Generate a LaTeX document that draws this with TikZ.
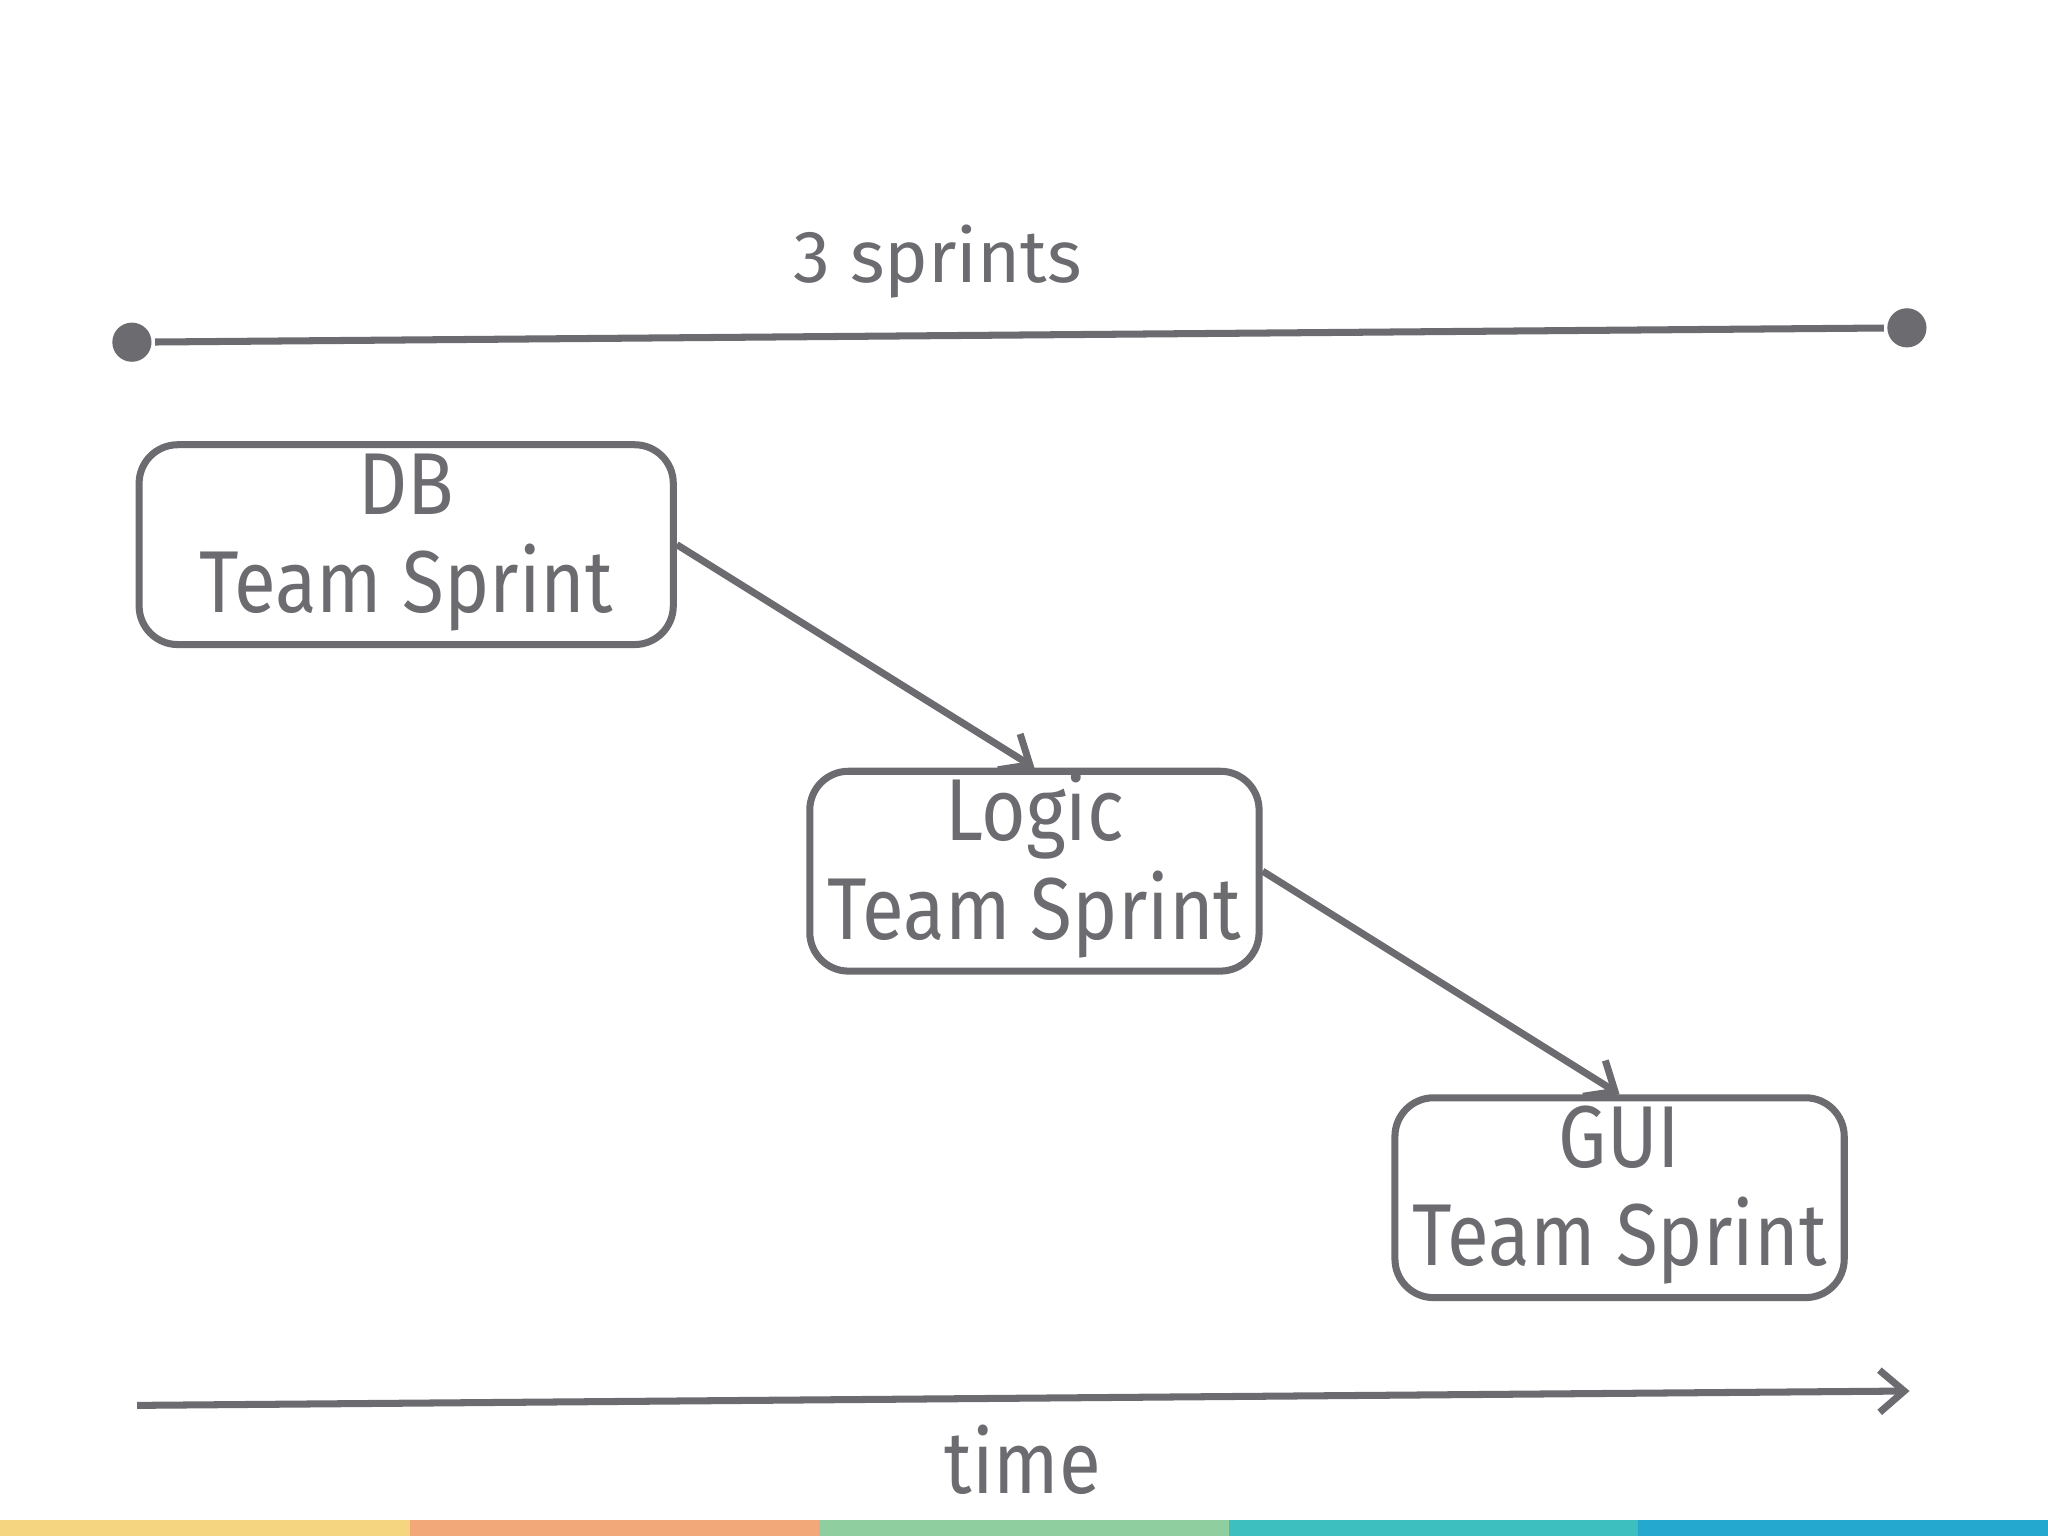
\documentclass[tikz,border=0pt]{standalone}
\usepackage{fontspec}
\setmainfont{Fira Sans}
\newfontfamily\narrowfont{Fira Sans}[FakeStretch=0.87]
\usetikzlibrary{positioning,arrows.meta}
\definecolor{ink}{HTML}{6B6B70}
\definecolor{bandA}{HTML}{F6D580}
\definecolor{bandB}{HTML}{F2A878}
\definecolor{bandC}{HTML}{8FCF9F}
\definecolor{bandD}{HTML}{3DBFBF}
\definecolor{bandE}{HTML}{25A8D0}
\newcommand{\sprinttext}[1]{\raisebox{-6pt}[0pt][0pt]{\begin{tabular}{@{}c@{}}#1\\Team Sprint\end{tabular}}}

\begin{document}
\begin{tikzpicture}[x=0.013061cm, y=-0.013061cm, line width=2pt, draw=ink,
    sprint/.style={draw=ink, rounded corners=11pt, inner sep=0pt,
      minimum height=153*0.013061cm, font=\narrowfont\fontsize{25}{28}\selectfont, text=ink},
    dot/.style={circle, fill=ink, minimum size=30*0.013061cm, inner sep=0pt},
    link/.style={draw=ink, -{Straight Barb[length=7pt, width=12pt]}}]

    \useasboundingbox (0,0) rectangle (1568,1176);

    % Colour band
    \foreach \c [count=\i from 0] in {bandA,bandB,bandC,bandD,bandE}
      \fill[\c] (\i*313.6,1164) rectangle ({(\i+1)*313.6},1176);

    % Span of the sprints
    \node[dot] (s) at (101,262) {};
    \node[dot] (e) at (1460,251) {};
    \draw[ink] (s) -- (e);
    \node[text=ink, font=\fontsize{21}{25}\selectfont] (span) at (718,200) {3 sprints};

    % Sprints
    \node[sprint, minimum width=409*0.013061cm] (db) at (311,417) {\sprinttext{DB}};
    \node[sprint, minimum width=344*0.013061cm] (logic) at (792,667) {\sprinttext{Logic}};
    \node[sprint, minimum width=344*0.013061cm] (gui) at (1240,917) {\sprinttext{GUI}};

    \draw[link] (db.east) -- (logic.north);
    \draw[link] (logic.east) -- (gui.north);

    % Time axis
    \coordinate (t0) at (105,1076);
    \coordinate (t1) at (1462,1065);
    \draw[link] (t0) -- (t1);
    \node[text=ink, font=\narrowfont\fontsize{25}{29}\selectfont] (time) at (783,1118) {time};
\end{tikzpicture}
\end{document}
